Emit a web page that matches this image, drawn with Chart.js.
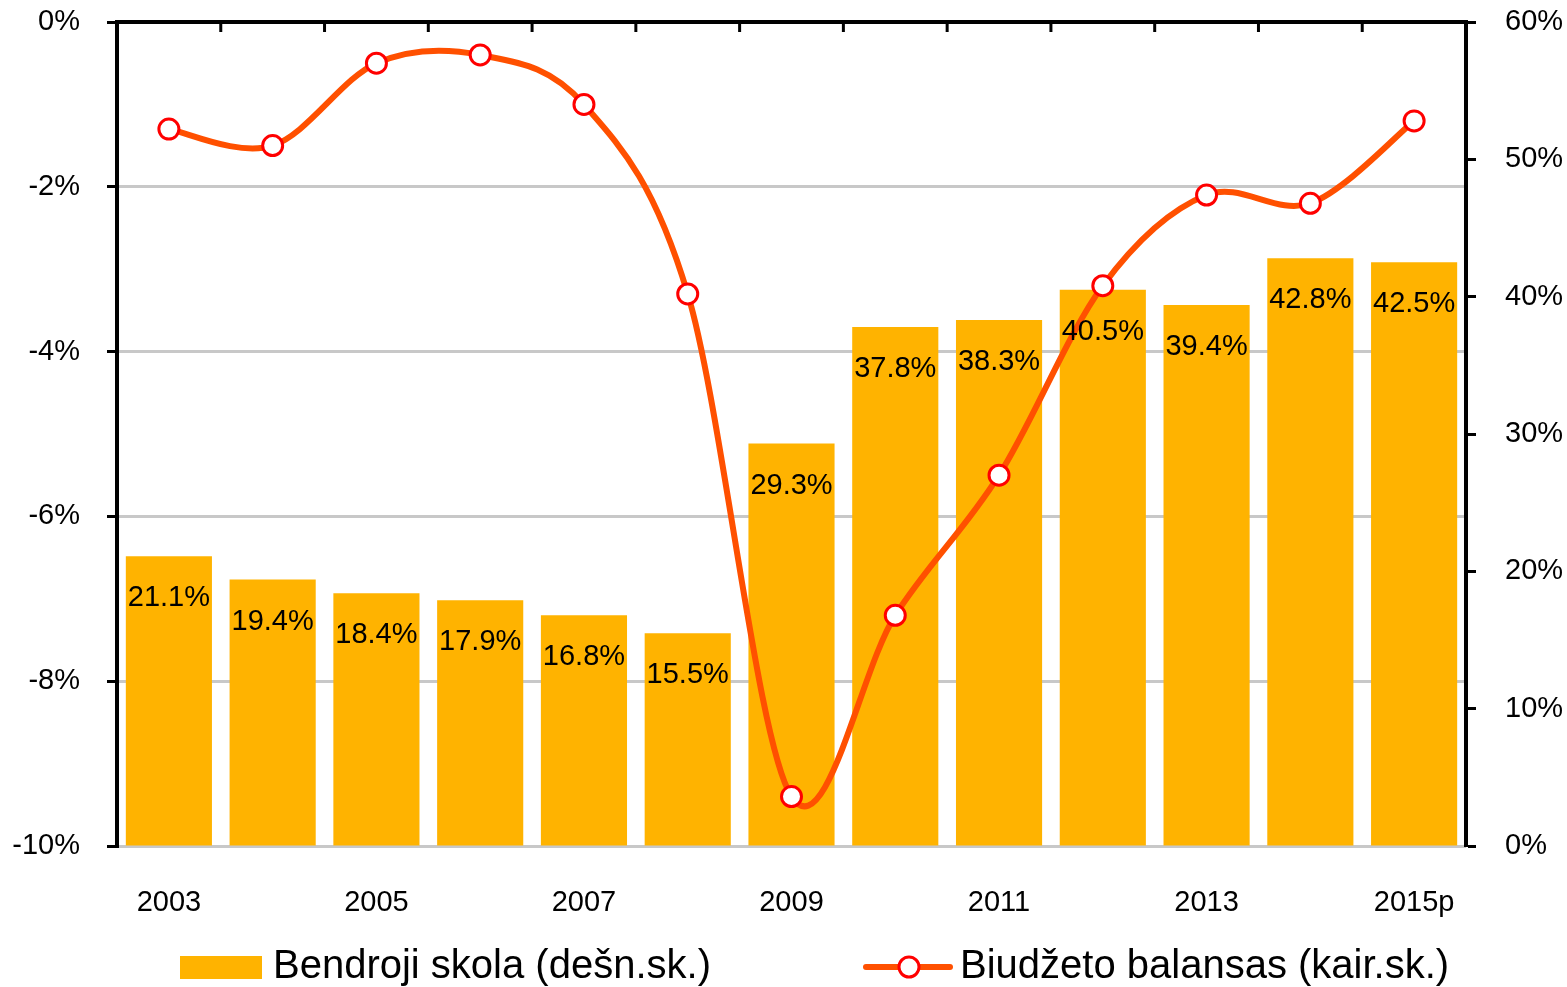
<!DOCTYPE html>
<html>
<head>
<meta charset="utf-8">
<script src="https://cdn.jsdelivr.net/npm/chart.js@4.4.1/dist/chart.umd.min.js"></script>
<style>
body { margin: 0; background: #fff; }
</style>
</head>
<body>
<canvas id="debt-balance" width="1567" height="987"></canvas>
<script>
const years = ['2003', '2004', '2005', '2006', '2007', '2008', '2009', '2010', '2011', '2012', '2013', '2014', '2015p'];
const debt_values = [21.1, 19.4, 18.4, 17.9, 16.8, 15.5, 29.3, 37.8, 38.3, 40.5, 39.4, 42.8, 42.5];
const balance_values = [-1.3, -1.5, -0.5, -0.4, -1.0, -3.3, -9.4, -7.2, -5.5, -3.2, -2.1, -2.2, -1.2];
const debt_label = 'Bendroji skola (dešn.sk.)';
const balance_label = 'Biudžeto balansas (kair.sk.)';

const bar_color = '#FFB300';
const line_color = '#FF5000';
const point_color = '#FF0000';
const font_family = '"Liberation Sans", Arial, sans-serif';

Chart.defaults.font.family = font_family;
Chart.defaults.color = '#000';

// excel-like smoothing (uniform catmull-rom) instead of chart.js distance weighted one
const smooth_line = {
    id: 'smooth_line',
    beforeDatasetsDraw(chart) {
        const meta = chart.getDatasetMeta(0);
        meta.dataset.updateControlPoints(chart.chartArea, meta.iScale.axis);
        const pts = meta.data;
        const n = pts.length;
        for (let i = 0; i < n; i++) {
            const prev = pts[Math.max(i - 1, 0)];
            const next = pts[Math.min(i + 1, n - 1)];
            const dx = (next.x - prev.x) / 6;
            const dy = (next.y - prev.y) / 6;
            pts[i].cp1x = pts[i].x - dx;
            pts[i].cp1y = pts[i].y - dy;
            pts[i].cp2x = pts[i].x + dx;
            pts[i].cp2y = pts[i].y + dy;
        }
    }
};

// labels inside the bars
const bar_labels = {
    id: 'bar_labels',
    afterDatasetsDraw(chart) {
        const ctx = chart.ctx;
        const meta = chart.getDatasetMeta(1);
        ctx.save();
        ctx.font = '29px ' + font_family;
        ctx.fillStyle = '#000';
        ctx.textAlign = 'center';
        ctx.textBaseline = 'middle';
        meta.data.forEach((bar, i) => {
            ctx.fillText(debt_values[i].toFixed(1) + '%', bar.x, bar.y + 42);
        });
        ctx.restore();
    }
};

// top border with inward ticks + legend at the bottom
const frame_and_legend = {
    id: 'frame_and_legend',
    afterDraw(chart) {
        const ctx = chart.ctx;
        const area = chart.chartArea;
        const x = chart.scales.x;
        ctx.save();
        ctx.strokeStyle = '#000';
        ctx.lineWidth = 4;
        ctx.beginPath();
        ctx.moveTo(area.left - 2, area.top);
        ctx.lineTo(area.right + 2, area.top);
        ctx.stroke();
        ctx.lineWidth = 3;
        for (let i = 1; i < years.length; i++) {
            const bx = (x.getPixelForValue(i - 1) + x.getPixelForValue(i)) / 2;
            ctx.beginPath();
            ctx.moveTo(bx, area.top);
            ctx.lineTo(bx, area.top + 10);
            ctx.stroke();
        }

        // legend
        const ly = chart.height - 20;
        ctx.font = '40px ' + font_family;
        ctx.textBaseline = 'middle';
        ctx.textAlign = 'left';
        ctx.fillStyle = bar_color;
        ctx.fillRect(180, ly - 11, 82, 23);
        ctx.fillStyle = '#000';
        ctx.fillText(debt_label, 273, ly);

        ctx.strokeStyle = line_color;
        ctx.lineWidth = 6;
        ctx.lineCap = 'round';
        ctx.beginPath();
        ctx.moveTo(866, ly);
        ctx.lineTo(950, ly);
        ctx.stroke();
        ctx.beginPath();
        ctx.arc(909, ly, 10, 0, Math.PI * 2);
        ctx.fillStyle = '#fff';
        ctx.fill();
        ctx.strokeStyle = point_color;
        ctx.lineWidth = 3;
        ctx.stroke();
        ctx.fillStyle = '#000';
        ctx.fillText(balance_label, 960, ly);
        ctx.restore();
    }
};

const chart_debt_balance = new Chart(document.getElementById('debt-balance'), {
    type: 'bar',
    data: {
        labels: years,
        datasets: [{
            type: 'line',
            label: balance_label,
            data: balance_values,
            yAxisID: 'y',
            borderColor: line_color,
            borderWidth: 6,
            tension: 0.5,
            pointRadius: 10,
            pointBorderWidth: 3,
            pointBorderColor: point_color,
            pointBackgroundColor: '#fff',
            order: 0
        }, {
            type: 'bar',
            label: debt_label,
            data: debt_values,
            yAxisID: 'y1',
            backgroundColor: bar_color,
            categoryPercentage: 1,
            barPercentage: 0.83,
            order: 1
        }]
    },
    options: {
        responsive: false,
        animation: false,
        layout: {
            padding: 0
        },
        plugins: {
            legend: { display: false },
            tooltip: { enabled: false }
        },
        scales: {
            x: {
                offset: true,
                grid: { display: false, drawTicks: false },
                border: { display: false },
                ticks: {
                    autoSkip: false,
                    maxRotation: 0,
                    padding: 40,
                    font: { size: 29 },
                    callback: function(val, i) {
                        return i % 2 === 0 ? this.getLabelForValue(val) : '';
                    }
                },
                afterFit: function(scale) {
                    scale.height = 141;
                    scale.paddingLeft = 0;
                    scale.paddingRight = 0;
                }
            },
            y: {
                position: 'left',
                min: -10,
                max: 0,
                ticks: {
                    stepSize: 2,
                    padding: 27,
                    font: { size: 29 },
                    callback: v => v + '%'
                },
                grid: { color: '#C8C8C8', lineWidth: 3, tickColor: '#000', tickLength: 10, tickWidth: 3 },
                border: { color: '#000', width: 4 },
                afterFit: function(scale) {
                    scale.width = 117;
                    scale.paddingTop = 22;
                    scale.paddingBottom = 0;
                }
            },
            y1: {
                position: 'right',
                min: 0,
                max: 60,
                ticks: {
                    stepSize: 10,
                    padding: 29,
                    font: { size: 29 },
                    callback: v => v + '%'
                },
                grid: { drawOnChartArea: false, tickColor: '#000', tickLength: 10, tickWidth: 3 },
                border: { color: '#000', width: 4 },
                afterFit: function(scale) {
                    scale.width = 101;
                    scale.paddingTop = 22;
                    scale.paddingBottom = 0;
                }
            }
        }
    },
    plugins: [smooth_line, bar_labels, frame_and_legend]
});
</script>
</body>
</html>
